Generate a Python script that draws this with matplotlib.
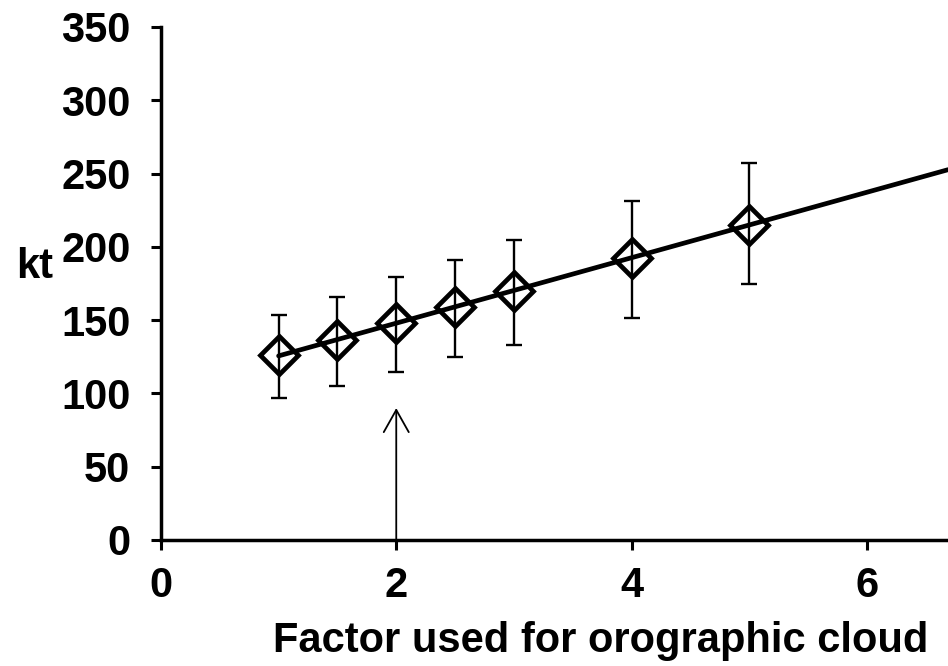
import numpy as np
import matplotlib
matplotlib.use("Agg")
import matplotlib.pyplot as plt

factor = [1, 1.5, 2, 2.5, 3, 4, 5]
speed = [125.9, 136.5, 147.8, 159.2, 170.2, 192.5, 215.0]
upper = [153.5, 166.0, 179.7, 191.0, 204.7, 231.3, 257.0]
lower = [96.9, 105.3, 114.8, 125.1, 133.0, 151.7, 174.5]
yticks = [0, 50, 100, 150, 200, 250, 300, 350]
xticks = [0, 2, 4, 6]
arrow_x = 2
arrow_top = 90

plt.rcParams['font.family'] = ['Liberation Sans', 'DejaVu Sans']
plt.rcParams['font.weight'] = 'bold'

fig = plt.figure(figsize=(9.48, 6.66), dpi=100)
ax = fig.add_axes([0.1698, 0.1892, 0.8302, 0.7703])

s = np.array(speed)
err = [s - np.array(lower), np.array(upper) - s]
ax.errorbar(factor, speed, yerr=err, fmt='none', ecolor='black',
            elinewidth=1.7, capsize=6, capthick=1.7, zorder=2)

# linear trendline
coef = np.polyfit(factor, speed, 1)
xl = np.array([factor[0], 6.69])
ax.plot(xl, np.polyval(coef, xl), color='black', lw=3.4, zorder=3,
        solid_capstyle='round', clip_on=False)

ax.plot(factor, speed, linestyle='none', marker='D', markersize=19,
        markerfacecolor='none', markeredgecolor='black',
        markeredgewidth=3.4, zorder=4)

ax.annotate('', xy=(arrow_x, arrow_top), xytext=(arrow_x, 0),
            arrowprops=dict(arrowstyle='->,head_length=0.8,head_width=0.45',
                            lw=1.3, color='black', shrinkA=0, shrinkB=0,
                            mutation_scale=20))

ax.set_xlim(0, 6.69)
ax.set_ylim(0, 350)
ax.set_xticks(xticks)
ax.set_yticks(yticks)
ax.tick_params(axis='both', direction='out', length=7, width=2.2,
               labelsize=30)
ax.tick_params(axis='y', pad=15)
ax.tick_params(axis='x', pad=12)
for lab in ax.get_xticklabels() + ax.get_yticklabels():
    lab.set_fontweight('bold')
ax.spines['top'].set_visible(False)
ax.spines['right'].set_visible(False)
ax.spines['left'].set_linewidth(2.5)
ax.spines['bottom'].set_linewidth(2.5)

fig.text(601/948, 1 - 641/666, 'Factor used for orographic cloud',
         ha='center', va='center', fontsize=30, fontweight='bold')
fig.text(35/948, 1 - 267/666, 'kt', ha='center', va='center',
         fontsize=30, fontweight='bold')

fig.savefig('out.png', dpi=100)
